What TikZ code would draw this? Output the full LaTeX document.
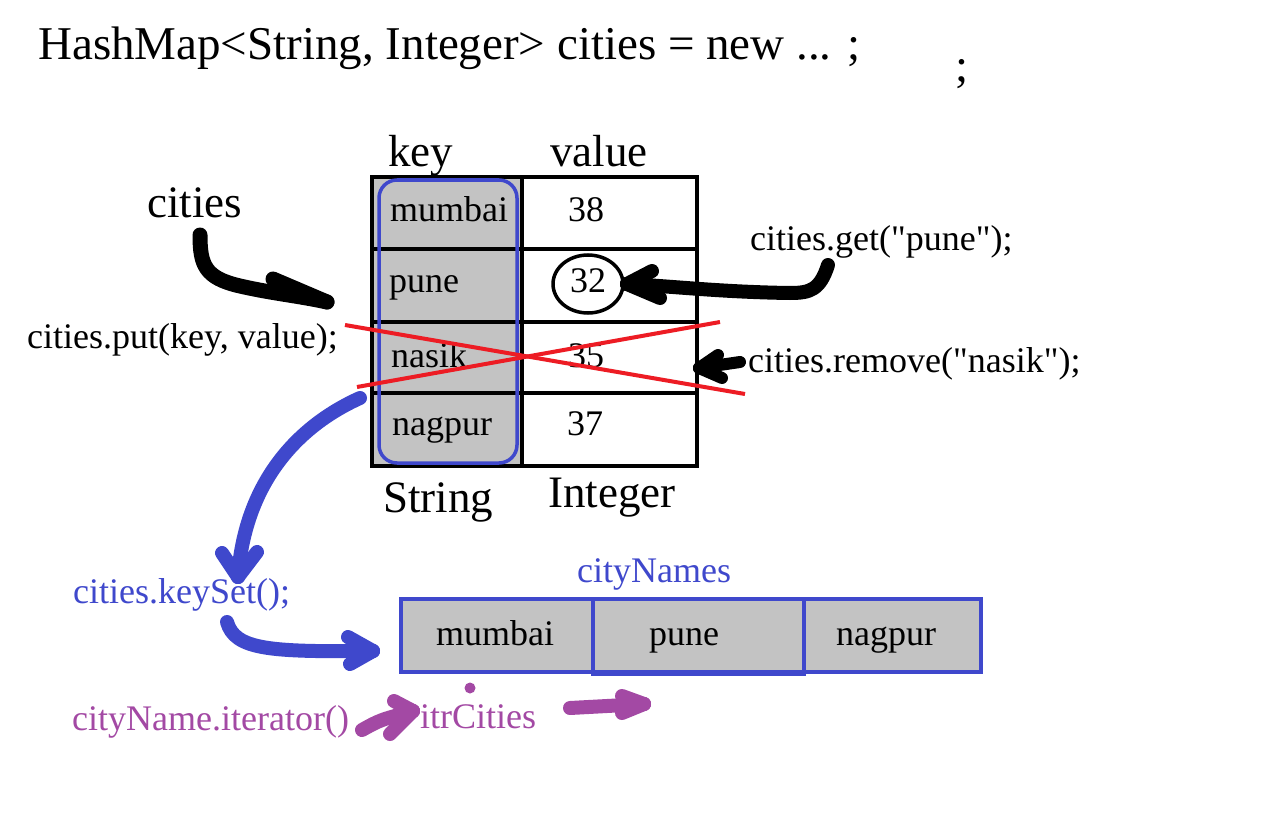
\documentclass[tikz,border=0pt]{standalone}
\usepackage{fontspec}
\setmainfont{Liberation Serif}[Ligatures=TeXOff]
\definecolor{pblue}{HTML}{3F48CC}
\definecolor{ppurple}{HTML}{A349A4}
\definecolor{pred}{HTML}{ED1C24}
\definecolor{pgray}{HTML}{C3C3C3}
\begin{document}
\begin{tikzpicture}[x=1pt,y=-1pt,
  title/.style={font=\fontsize{47}{52}\selectfont, inner sep=0pt, anchor=base west},
  big/.style={font=\fontsize{45}{50}\selectfont, inner sep=0pt, anchor=base west},
  sm/.style={font=\fontsize{36}{40}\selectfont, inner sep=0pt, anchor=base west},
  stroke/.style={line width=14pt, line cap=round, line join=round},
  grid/.style={line width=4pt, line cap=rect},
  redx/.style={pred, line width=4pt}]
\useasboundingbox[fill=white] (0,0) rectangle (1264,824);

% title
\node[title] (t) at (38,60) {HashMap<String, Integer> cities = new ... ;};
\node[title] (semi) at (955,82) {;};

% table
\fill[pgray] (372,177) rectangle (522,466);
\draw[grid] (372,177) rectangle (697,466);
\draw[grid] (522,177) -- (522,466);
\draw[grid] (372,249) -- (697,249);
\draw[grid] (372,322) -- (697,322);
\draw[grid] (372,393) -- (697,393);
\draw[pblue, line width=3.5pt, rounded corners=18pt] (379,180) rectangle (517,463);

\node[big] (key) at (388,167) {key};
\node[big] (value) at (550,167) {value};
\node[big] (string) at (383,512) {String};
\node[big] (integer) at (548,507) {Integer};

\node[sm] (k1) at (390,222) {mumbai};
\node[sm] (v1) at (568,222) {38};
\node[sm] (k2) at (389,292) {pune};
\node[sm] (v2) at (570,292) {32};
\node[sm] (k3) at (391,367) {nasik};
\node[sm] (v3) at (568,367) {35};
\node[sm] (k4) at (392,435) {nagpur};
\node[sm] (v4) at (567,435) {37};

\draw[line width=3.5pt] (588,284) ellipse [x radius=35, y radius=29];

% red cross
\draw[redx] (345,325) -- (745,394);
\draw[redx] (357,387) -- (720,322);

% labels
\node[big] (cities) at (147,217) {cities};
\node[sm] (put) at (27,348) {cities.put(key, value);};
\node[sm] (get) at (750,250) {cities.get("pune");};
\node[sm] (remove) at (748,372) {cities.remove("nasik");};
\node[sm, text=pblue] (keyset) at (73,603) {cities.keySet();};
\node[sm, text=pblue] (cn) at (577,582) {cityNames};
\node[sm, text=ppurple] (iter) at (72,730) {cityName.iterator()};
\node[sm, text=ppurple] (itr) at (420,728) {itrCities};

% black arrows
\coordinate (a1s) at (200,235);
\coordinate (a1t) at (327,302);
\draw[stroke, line width=15pt] (a1s) .. controls (200,265) and (205,278) .. (240,286) .. controls (270,293) and (300,296) .. (a1t);
\draw[stroke, line width=15pt] (a1t) -- (273,279);
\coordinate (a2s) at (828,265);
\coordinate (a2t) at (627,284);
\draw[stroke] (a2s) .. controls (820,290) and (810,293) .. (790,293) .. controls (720,292) and (670,286) .. (a2t);
\draw[stroke] (a2t) -- (652,271);
\draw[stroke] (a2t) -- (660,298);
\coordinate (a3s) at (740,362);
\coordinate (a3t) at (699,368);
\draw[stroke, line width=12pt] (a3s) -- (a3t);
\draw[stroke, line width=12pt] (a3t) -- (718,355);
\draw[stroke, line width=12pt] (a3t) -- (722,378);

% blue arrows
\coordinate (b1s) at (360,398);
\coordinate (b1t) at (238,577);
\draw[stroke, pblue] (b1s) .. controls (300,425) and (245,480) .. (b1t);
\draw[stroke, pblue] (b1t) -- (222,553);
\draw[stroke, pblue] (b1t) -- (257,552);
\coordinate (b2s) at (227,622);
\coordinate (b2t) at (373,651);
\draw[stroke, pblue] (b2s) .. controls (235,650) and (270,652) .. (b2t);
\draw[stroke, pblue] (b2t) -- (348,637);
\draw[stroke, pblue] (b2t) -- (350,664);

% cityNames array
\fill[pgray] (401,599) rectangle (981,672);
\draw[pblue, line width=4pt] (401,599) rectangle (981,672);
\draw[pblue, line width=4pt] (593,599) -- (593,674) -- (804,674) -- (804,599);
\node[sm] (c1) at (436,645) {mumbai};
\node[sm] (c2) at (649,645) {pune};
\node[sm] (c3) at (836,645) {nagpur};

% purple arrows
\coordinate (p1s) at (362,730);
\coordinate (p1t) at (413,711);
\draw[stroke, ppurple, line width=14pt] (p1s) .. controls (380,720) .. (p1t);
\draw[stroke, ppurple, line width=14pt] (p1t) -- (394,701);
\draw[stroke, ppurple, line width=14pt] (p1t) -- (390,734);
\fill[ppurple] (470,688) circle (5.5);
\coordinate (p2s) at (570,708);
\coordinate (p2t) at (644,704);
\draw[stroke, ppurple, line width=14pt] (p2s) -- (p2t);
\draw[stroke, ppurple, line width=14pt] (p2t) -- (622,696);
\draw[stroke, ppurple, line width=14pt] (p2t) -- (622,713);
\end{tikzpicture}
\end{document}
